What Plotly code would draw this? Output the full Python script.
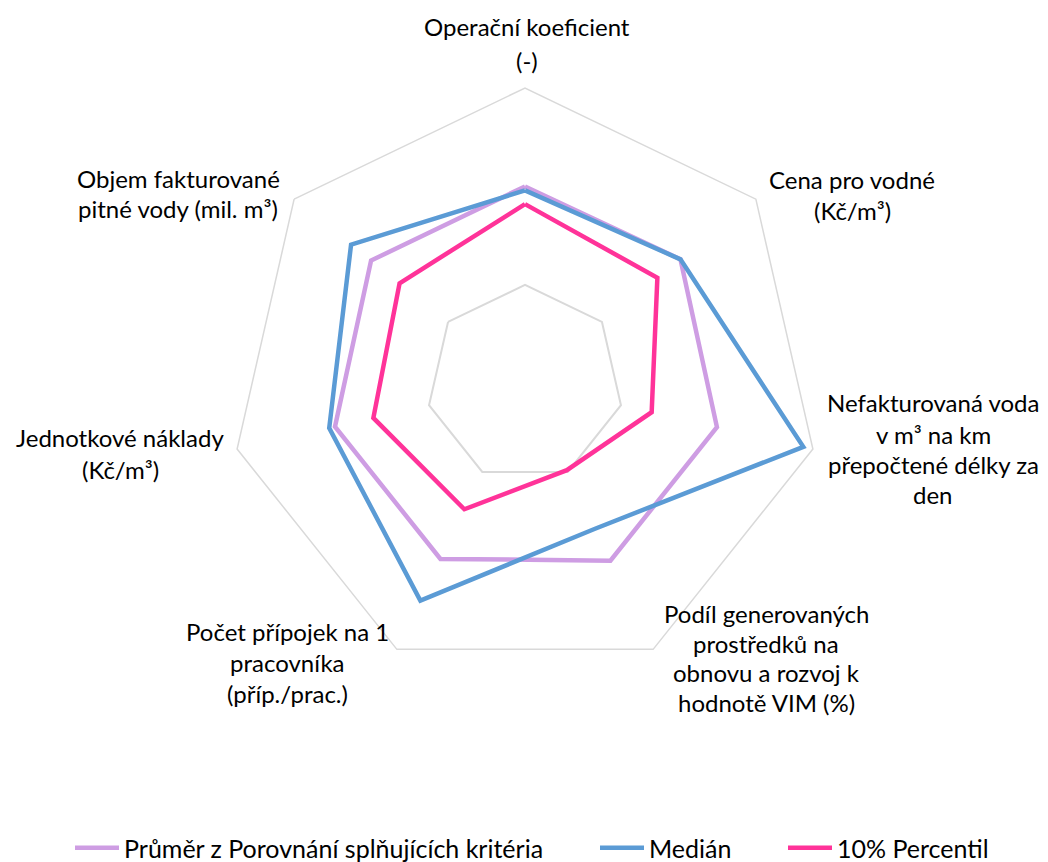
import plotly.graph_objects as go

categories = [
    "Operační koeficient (-)",
    "Cena pro vodné (Kč/m³)",
    "Nefakturovaná voda v m³ na km přepočtené délky za den",
    "Podíl generovaných prostředků na obnovu a rozvoj k hodnotě VIM (%)",
    "Počet přípojek na 1 pracovníka (příp./prac.)",
    "Jednotkové náklady (Kč/m³)",
    "Objem fakturované pitné vody (mil. m³)",
]
label_lines = [
    ["Operační koeficient", "(-)"],
    ["Cena pro vodné", "(Kč/m³)"],
    ["Nefakturovaná voda", "v m³ na km", "přepočtené délky za", "den"],
    ["Podíl generovaných", "prostředků na", "obnovu a rozvoj k", "hodnotě VIM (%)"],
    ["Počet přípojek na 1", "pracovníka", "(příp./prac.)"],
    ["Jednotkové náklady", "(Kč/m³)"],
    ["Objem fakturované", "pitné vody (mil. m³)"],
]

prumer = [1.00, 1.01, 1.00, 1.00, 0.99, 0.99, 1.00]
median = [0.98, 1.01, 1.45, 0.82, 1.225, 1.02, 1.13]
percentil10 = [0.91, 0.86, 0.66, 0.49, 0.71, 0.79, 0.815]

series_names = ["Průměr z Porovnání splňujících kritéria", "Medián", "10% Percentil"]
series_values = [prumer, median, percentil10]
series_colors = ["#CE9DE3", "#5B9BD5", "#FF3399"]

radial_range = [0, 1.5]
grid_rings = [0.5]

W, H = 1048, 862
cx, cy, R = 525, 383.3, 295.3

FONT = "Lato"
FS = 24
LFS = 25

fig = go.Figure()
legend_keys = ["legend", "legend2", "legend3"]
for name, vals, col, lg in zip(series_names, series_values, series_colors, legend_keys):
    fig.add_trace(go.Scatterpolar(
        r=vals + vals[:1],
        theta=categories + categories[:1],
        mode="lines",
        name=name,
        line=dict(color=col, width=4.5),
        legend=lg,
    ))

annotations = []
label_pos = [
    (527, [27, 61]),
    (852, [179, 210]),
    (933, [403, 434, 464, 494]),
    (766, [613, 643, 672, 702]),
    (287, [631, 662, 693]),
    (120, [438, 470]),
    (178, [178, 209]),
]
for lines, (x, ys) in zip(label_lines, label_pos):
    for t, y in zip(lines, ys):
        annotations.append(dict(
            text=t, x=x / W, y=1 - y / H, xref="paper", yref="paper",
            xanchor="center", yanchor="middle", showarrow=False,
            font=dict(family=FONT, size=FS, color="#000000"),
        ))

leg_common = dict(orientation="h", yanchor="middle", xanchor="left",
                  font=dict(family=FONT, size=LFS, color="#000000"),
                  bgcolor="rgba(0,0,0,0)", itemwidth=44)
fig.update_layout(
    width=W, height=H,
    margin=dict(l=0, r=0, t=0, b=0, autoexpand=False),
    paper_bgcolor="white",
    plot_bgcolor="white",
    showlegend=True,
    polar=dict(
        domain=dict(x=[(cx - R) / W, (cx + R) / W],
                    y=[(H - cy - R) / H, (H - cy + R) / H]),
        bgcolor="white",
        gridshape="linear",
        hole=0,
        radialaxis=dict(range=radial_range, tickvals=grid_rings, showticklabels=False,
                        ticks="", showline=False, showgrid=True,
                        gridcolor="#D9D9D9", gridwidth=1.5),
        angularaxis=dict(rotation=90, direction="clockwise", showticklabels=False,
                         ticks="", showgrid=False, showline=True,
                         linecolor="#D9D9D9", linewidth=1.5),
    ),
    legend=dict(x=70 / W, y=1 - 848 / H, **leg_common),
    legend2=dict(x=595 / W, y=1 - 848 / H, **leg_common),
    legend3=dict(x=783 / W, y=1 - 848 / H, **leg_common),
    annotations=annotations,
)

fig.write_html("out.html",
               config={"displayModeBar": False},
               post_script="document.body.style.margin='0';document.body.style.overflow='hidden';")
